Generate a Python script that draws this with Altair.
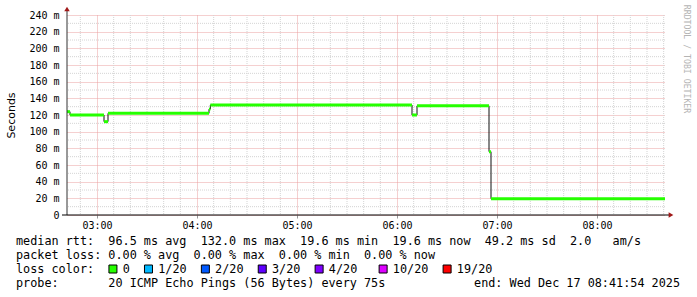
import altair as alt
import pandas as pd

# ---- data (minutes since midnight, RTT in ms) ----
seg_start = [162.0, 163.8, 184.2, 186.6, 247.2, 248.0, 369.0, 372.0, 415.2, 416.4]
seg_end = [163.8, 184.2, 186.6, 247.2, 248.0, 369.0, 372.0, 415.2, 416.4, 520.8]
seg_rtt = [124.0, 120.0, 112.0, 122.0, 127.0, 132.0, 120.0, 131.0, 76.0, 19.6]

hour_ticks = [180, 240, 300, 360, 420, 480]
y_ticks = [0, 20, 40, 60, 80, 100, 120, 140, 160, 180, 200, 220, 240]

stats_lines = [
    "median rtt:  96.5 ms avg  132.0 ms max  19.6 ms min  19.6 ms now  49.2 ms sd  2.0   am/s",
    "packet loss: 0.00 % avg  0.00 % max  0.00 % min  0.00 % now",
    "loss color:",
    "probe:       20 ICMP Echo Pings (56 Bytes) every 75s",
]
end_text = "end: Wed Dec 17 08:41:54 2025"
watermark = "RRDTOOL / TOBI OETIKER"
loss_labels = ["0", "1/20", "2/20", "3/20", "4/20", "10/20", "19/20"]
loss_colors = ["#26ff00", "#00b8ff", "#0059ff", "#5e00ff", "#7e00ff", "#dd00ff", "#ff0000"]

X_DOMAIN = [162.0, 520.8]
Y_DOMAIN = [0, 240]
W, H = 598, 200
MONO = "DejaVu Sans Mono"
NBSP = "\u00a0"

xs = alt.Scale(domain=X_DOMAIN, nice=False, zero=False)
ys = alt.Scale(domain=Y_DOMAIN, nice=False)

x_axis = alt.Axis(
    values=hour_ticks,
    labelExpr="'0' + floor(datum.value / 60) + ':00'",
    grid=True,
    gridColor="#eaa0a0",
    gridDash=[1, 1],
    domain=False,
    ticks=True,
    tickSize=3,
    tickColor="#999999",
    labelFont=MONO,
    labelFontSize=10,
    labelColor="#000000",
    labelPadding=2,
    title=None,
)
y_axis = alt.Axis(
    values=y_ticks,
    labelExpr="datum.value == 0 ? '0' : datum.value + ' m'",
    grid=True,
    gridColor="#eaa0a0",
    gridDash=[1, 1],
    domain=False,
    ticks=False,
    labelFont=MONO,
    labelFontSize=10,
    labelColor="#000000",
    labelPadding=8,
    title="Seconds",
    titleFont="DejaVu Sans",
    titleFontSize=11,
    titleFontWeight="normal",
    titleColor="#000000",
    titleX=-56,
    titleY=100,
    titleAngle=-90,
    titleAlign="center",
    titleBaseline="middle",
)

segs = pd.DataFrame({"t0": seg_start, "t1": seg_end, "rtt": seg_rtt})
steps = pd.DataFrame({"t": seg_start + [seg_end[-1]], "rtt": seg_rtt + [seg_rtt[-1]]})

# minor grid
minor_x = (
    alt.Chart(alt.sequence(170, 521, 10, as_="m"))
    .transform_filter("datum.m % 60 != 0")
    .mark_rule(color="#d4d4d4", strokeDash=[1, 1], strokeWidth=1)
    .encode(x=alt.X("m:Q", scale=xs, axis=x_axis))
)
minor_y = (
    alt.Chart(alt.sequence(10, 240, 20, as_="v"))
    .mark_rule(color="#d4d4d4", strokeDash=[1, 1], strokeWidth=1)
    .encode(y=alt.Y("v:Q", scale=ys, axis=y_axis))
)

step_line = (
    alt.Chart(steps)
    .mark_line(interpolate="step-after", color="#111111", strokeWidth=1)
    .encode(x=alt.X("t:Q", scale=xs, axis=x_axis), y=alt.Y("rtt:Q", scale=ys, axis=y_axis))
)

green = (
    alt.Chart(segs)
    .mark_rule(color="#26ff00", strokeWidth=3, strokeCap="butt")
    .encode(
        x=alt.X("t0:Q", scale=xs, axis=x_axis),
        x2="t1:Q",
        y=alt.Y("rtt:Q", scale=ys, axis=y_axis),
    )
)

dummy = pd.DataFrame({"a": [0]})
y_axis_line = alt.Chart(dummy).mark_rule(color="#333333", strokeWidth=1).encode(
    x=alt.value(0), y=alt.value(-5), y2=alt.value(H)
)
x_axis_line = alt.Chart(dummy).mark_rule(color="#000000", strokeWidth=1).encode(
    x=alt.value(-5), x2=alt.value(602), y=alt.value(H)
)
arrow_up = alt.Chart(dummy).mark_point(shape="triangle-up", filled=True, color="#a01818", size=30, opacity=1).encode(
    x=alt.value(0), y=alt.value(-6)
)
arrow_right = alt.Chart(dummy).mark_point(shape="triangle-right", filled=True, color="#a01818", size=30, opacity=1).encode(
    x=alt.value(604), y=alt.value(H)
)

layers = [minor_x, minor_y, step_line, green, y_axis_line, x_axis_line, arrow_up, arrow_right]

row_y = [226, 240, 254, 268]
for line, yy in zip(stats_lines, row_y):
    layers.append(
        alt.Chart(pd.DataFrame({"s": [line.replace(" ", NBSP)]}))
        .mark_text(font=MONO, fontSize=11.8, align="left", baseline="middle", color="#000000")
        .encode(text="s:N", x=alt.value(-51), y=alt.value(yy))
    )

layers.append(
    alt.Chart(pd.DataFrame({"s": [end_text.replace(" ", NBSP)]}))
    .mark_text(font=MONO, fontSize=11.8, align="right", baseline="middle", color="#000000")
    .encode(text="s:N", x=alt.value(613), y=alt.value(268))
)

layers.append(
    alt.Chart(pd.DataFrame({"s": [watermark.replace(" ", NBSP)]}))
    .mark_text(font=MONO, fontSize=8.2, align="center", baseline="middle", angle=90, color="#b4b4b4")
    .encode(text="s:N", x=alt.value(619), y=alt.value(44))
)

# loss colour legend (char-column layout of the rrdtool legend)
square_cols = [13, 18, 26, 34, 42, 51, 60]
CH = 7.11
for lab, col, c in zip(loss_labels, square_cols, loss_colors):
    sx = -51 + col * CH
    layers.append(
        alt.Chart(pd.DataFrame({"s": [lab]}))
        .mark_square(size=64, color=c, fill=c, stroke="#000000", strokeWidth=1, opacity=1, fillOpacity=1)
        .encode(x=alt.value(sx + 4.5), y=alt.value(254))
    )
    layers.append(
        alt.Chart(pd.DataFrame({"s": [lab]}))
        .mark_text(font=MONO, fontSize=11.8, align="left", baseline="middle", color="#000000")
        .encode(text="s:N", x=alt.value(sx + 2 * CH), y=alt.value(254))
    )

chart = (
    alt.layer(*layers)
    .properties(
        width=W,
        height=H,
        autosize=alt.AutoSizeParams(type="none"),
        padding={"left": 67, "top": 15, "right": 32, "bottom": 82},
        background="#ffffff",
    )
    .configure_view(stroke=None)
)

chart.save("out.html", embed_options={"renderer": "svg", "actions": False})
